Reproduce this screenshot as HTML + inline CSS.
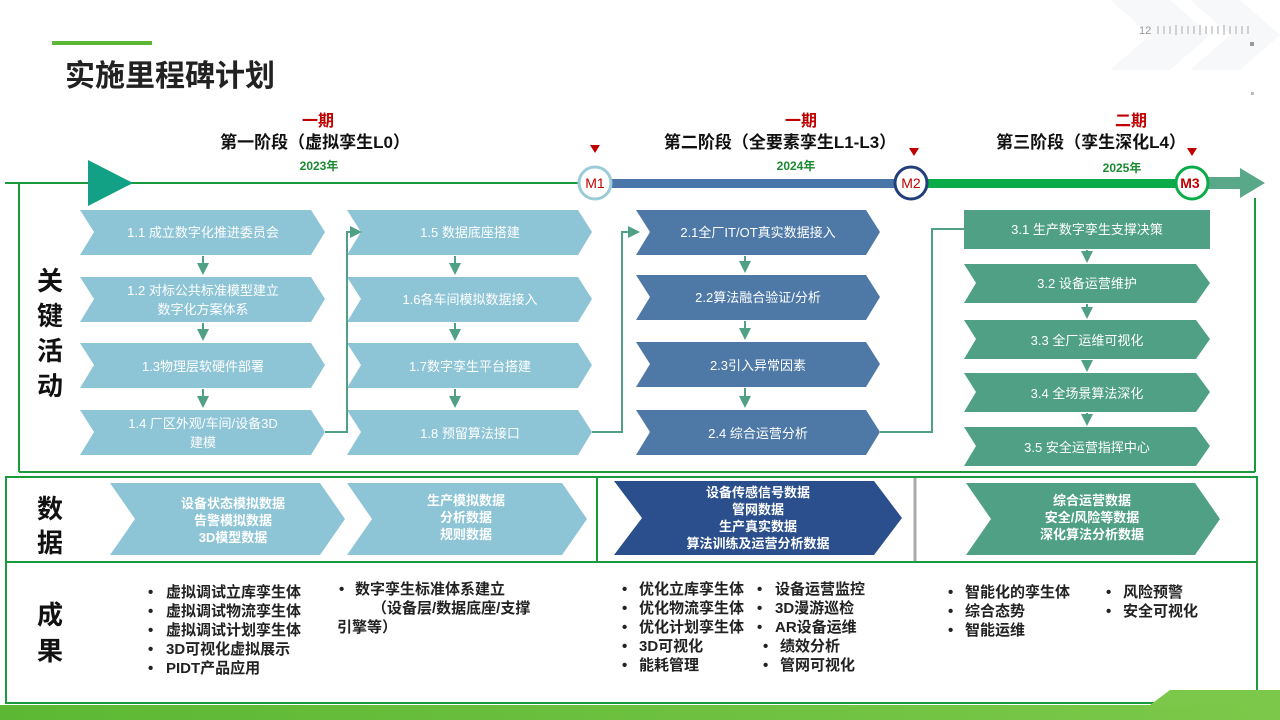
<!DOCTYPE html>
<html><head><meta charset="utf-8"><style>
html,body{margin:0;padding:0;background:#fff}
svg{display:block}
text{font-family:"Liberation Sans","Noto Sans CJK SC",sans-serif}
</style></head><body>
<svg width="1280" height="720" viewBox="0 0 1280 720" xmlns="http://www.w3.org/2000/svg">
<defs>
<marker id="ah" markerWidth="6" markerHeight="6" refX="5" refY="3" orient="auto"><path d="M0,0 L6,3 L0,6 z" fill="#4fa084"/></marker>
<linearGradient id="bg" x1="0" x2="1"><stop offset="0" stop-color="#5cb834"/><stop offset="1" stop-color="#7cc84a"/></linearGradient>
</defs>
<!-- decor top right -->
<path d="M1110,0 L1170,0 L1210,35 L1170,70 L1110,70 L1150,35z" fill="#f6f8fa"/>
<path d="M1190,0 L1240,0 L1280,35 L1240,70 L1190,70 L1230,35z" fill="#f6f8fa"/>
<text x="1139" y="34" font-size="11" fill="#999">12</text>
<g stroke="#aaa" stroke-width="1">
<line x1="1158" y1="26" x2="1158" y2="34"/><line x1="1164" y1="26" x2="1164" y2="34"/><line x1="1170" y1="26" x2="1170" y2="34"/><line x1="1176" y1="25" x2="1176" y2="35"/><line x1="1182" y1="26" x2="1182" y2="34"/><line x1="1188" y1="26" x2="1188" y2="34"/><line x1="1194" y1="26" x2="1194" y2="34"/><line x1="1200" y1="25" x2="1200" y2="35"/><line x1="1206" y1="26" x2="1206" y2="34"/><line x1="1212" y1="26" x2="1212" y2="34"/><line x1="1218" y1="26" x2="1218" y2="34"/><line x1="1224" y1="25" x2="1224" y2="35"/><line x1="1230" y1="26" x2="1230" y2="34"/><line x1="1236" y1="26" x2="1236" y2="34"/><line x1="1242" y1="26" x2="1242" y2="34"/><line x1="1248" y1="26" x2="1248" y2="34"/>
</g>
<rect x="1250" y="42" width="4" height="4" fill="#999"/>
<rect x="1251" y="92" width="3" height="3" fill="#bbb"/>
<!-- title -->
<rect x="52" y="41" width="100" height="4" fill="#5cb834"/>
<text x="65" y="86" font-size="30" font-weight="bold" fill="#222">实施里程碑计划</text>
<!-- stage labels -->
<g font-weight="bold" text-anchor="middle">
<text x="318" y="126" font-size="16" fill="#c00000">一期</text>
<text x="315" y="148" font-size="17" fill="#111">第一阶段（虚拟孪生L0）</text>
<text x="319" y="170" font-size="12" fill="#1a8a30">2023年</text>
<text x="801" y="126" font-size="16" fill="#c00000">一期</text>
<text x="780" y="148" font-size="17" fill="#111">第二阶段（全要素孪生L1-L3）</text>
<text x="796" y="170" font-size="12" fill="#1a8a30">2024年</text>
<text x="1131" y="126" font-size="16" fill="#c00000">二期</text>
<text x="1091" y="148" font-size="17" fill="#111">第三阶段（孪生深化L4）</text>
<text x="1122" y="172" font-size="12" fill="#1a8a30">2025年</text>
</g>
<!-- timeline -->
<line x1="5" y1="183" x2="580" y2="183" stroke="#1a9a3a" stroke-width="2"/>
<path d="M88,160 L133,183 L88,206z" fill="#13a185"/>
<rect x="610" y="179" width="290" height="9" fill="#4a75a8"/>
<rect x="925" y="179" width="255" height="9" fill="#0bab4a"/>
<path d="M1206,177 L1240,177 L1240,168 L1265,183 L1240,198 L1240,189 L1206,189z" fill="#5aa88a"/>
<circle cx="595" cy="183" r="16" fill="#fff" stroke="#9ccbd8" stroke-width="3"/>
<circle cx="911" cy="183" r="16" fill="#fff" stroke="#223f7a" stroke-width="3"/>
<circle cx="1192" cy="183" r="16" fill="#fff" stroke="#0bab4a" stroke-width="3"/>
<g font-size="14" fill="#c00000" text-anchor="middle"><text x="595" y="188">M1</text><text x="911" y="188">M2</text><text x="1190" y="188" font-weight="bold">M3</text></g>
<g fill="#c00000"><path d="M590,145 L600,145 L595,153z"/><path d="M909,148 L919,148 L914,156z"/><path d="M1187,148 L1197,148 L1192,156z"/></g>
<!-- frames -->
<g fill="none" stroke="#1a9a3a" stroke-width="2">
<line x1="19" y1="183" x2="19" y2="472"/>
<line x1="1255" y1="198" x2="1255" y2="472"/>
<line x1="19" y1="472" x2="1255" y2="472"/>
<rect x="6" y="477" width="1251" height="226"/>
<line x1="6" y1="562" x2="1257" y2="562"/>
<line x1="597" y1="477" x2="597" y2="562"/>
</g>
<line x1="915" y1="478" x2="915" y2="561" stroke="#aaa" stroke-width="3"/>
<!-- side labels -->
<g font-size="26" font-weight="bold" fill="#111" text-anchor="middle">
<text x="50" y="290">关</text><text x="50" y="325">键</text><text x="50" y="360">活</text><text x="50" y="395">动</text>
<text x="50" y="518">数</text><text x="50" y="552">据</text>
<text x="50" y="624">成</text><text x="50" y="660">果</text>
</g>
<!-- chevrons -->
<g fill="#8ec5d6">
<path d="M80,210 L311,210 L325,232 L311,255 L80,255 L94,232z"/>
<path d="M80,277 L311,277 L325,299 L311,322 L80,322 L94,299z"/>
<path d="M80,343 L311,343 L325,365 L311,388 L80,388 L94,365z"/>
<path d="M80,410 L311,410 L325,432 L311,455 L80,455 L94,432z"/>
<path d="M347,210 L578,210 L592,232 L578,255 L347,255 L361,232z"/>
<path d="M347,277 L578,277 L592,299 L578,322 L347,322 L361,299z"/>
<path d="M347,343 L578,343 L592,365 L578,388 L347,388 L361,365z"/>
<path d="M347,410 L578,410 L592,432 L578,455 L347,455 L361,432z"/>
</g>
<g fill="#4e79a7">
<path d="M636,210 L866,210 L880,232 L866,255 L636,255 L650,232z"/>
<path d="M636,275 L866,275 L880,297 L866,320 L636,320 L650,297z"/>
<path d="M636,342 L866,342 L880,364 L866,387 L636,387 L650,364z"/>
<path d="M636,410 L866,410 L880,432 L866,455 L636,455 L650,432z"/>
</g>
<g fill="#4fa084">
<rect x="964" y="210" width="246" height="39"/>
<path d="M964,264 L1196,264 L1210,283 L1196,303 L964,303 L976,283z"/>
<path d="M964,320 L1196,320 L1210,339 L1196,359 L964,359 L976,339z"/>
<path d="M964,373 L1196,373 L1210,392 L1196,412 L964,412 L976,392z"/>
<path d="M964,427 L1196,427 L1210,446 L1196,466 L964,466 L976,446z"/>
</g>
<!-- arrows -->
<g stroke="#4fa084" stroke-width="2" fill="none" marker-end="url(#ah)">
<line x1="203" y1="256" x2="203" y2="273"/><line x1="203" y1="323" x2="203" y2="339"/><line x1="203" y1="389" x2="203" y2="406"/>
<line x1="455" y1="256" x2="455" y2="273"/><line x1="455" y1="323" x2="455" y2="339"/><line x1="455" y1="389" x2="455" y2="406"/>
<line x1="745" y1="256" x2="745" y2="271"/><line x1="745" y1="321" x2="745" y2="338"/><line x1="745" y1="388" x2="745" y2="406"/>
<line x1="1087" y1="250" x2="1087" y2="261"/><line x1="1087" y1="304" x2="1087" y2="317"/><line x1="1087" y1="360" x2="1087" y2="370"/><line x1="1087" y1="413" x2="1087" y2="424"/>
<polyline points="325,432 347,432 347,232 360,232"/>
<polyline points="592,432 622,432 622,232 638,232"/>
</g>
<polyline points="880,432 932,432 932,229 964,229" stroke="#4fa084" stroke-width="2" fill="none"/>
<!-- chevron text -->
<g font-size="13" fill="#fff" text-anchor="middle">
<text x="203" y="237">1.1  成立数字化推进委员会</text>
<text x="203" y="295">1.2  对标公共标准模型建立</text><text x="203" y="314">数字化方案体系</text>
<text x="203" y="371">1.3物理层软硬件部署</text>
<text x="203" y="428">1.4  厂区外观/车间/设备3D</text><text x="203" y="447">建模</text>
<text x="470" y="237">1.5 数据底座搭建</text>
<text x="470" y="304">1.6各车间模拟数据接入</text>
<text x="470" y="371">1.7数字孪生平台搭建</text>
<text x="470" y="438">1.8  预留算法接口</text>
<text x="758" y="237">2.1全厂IT/OT真实数据接入</text>
<text x="758" y="302">2.2算法融合验证/分析</text>
<text x="758" y="370">2.3引入异常因素</text>
<text x="758" y="438">2.4 综合运营分析</text>
<text x="1087" y="234">3.1 生产数字孪生支撑决策</text>
<text x="1087" y="288">3.2 设备运营维护</text>
<text x="1087" y="345">3.3 全厂运维可视化</text>
<text x="1087" y="398">3.4  全场景算法深化</text>
<text x="1087" y="452">3.5 安全运营指挥中心</text>
</g>
<!-- data row -->
<path d="M110,483 L320,483 L345,519 L320,555 L110,555 L135,519z" fill="#8ec5d6"/>
<path d="M347,483 L562,483 L587,519 L562,555 L347,555 L372,519z" fill="#8ec5d6"/>
<path d="M614,481 L874,481 L902,518 L874,555 L614,555 L642,518z" fill="#2b4f8c"/>
<path d="M966,483 L1195,483 L1220,519 L1195,555 L966,555 L991,519z" fill="#4fa084"/>
<g font-size="13" font-weight="bold" fill="#fff" text-anchor="middle">
<text x="233" y="508">设备状态模拟数据</text><text x="233" y="525">告警模拟数据</text><text x="233" y="542">3D模型数据</text>
<text x="466" y="505">生产模拟数据</text><text x="466" y="522">分析数据</text><text x="466" y="539">规则数据</text>
<text x="758" y="497">设备传感信号数据</text><text x="758" y="514">管网数据</text><text x="758" y="531">生产真实数据</text><text x="758" y="548">算法训练及运营分析数据</text>
<text x="1092" y="505">综合运营数据</text><text x="1092" y="522">安全/风险等数据</text><text x="1092" y="539">深化算法分析数据</text>
</g>
<!-- results -->
<g font-size="15" font-weight="bold" fill="#222">
<text x="148" y="597">•</text><text x="166" y="597">虚拟调试立库孪生体</text>
<text x="148" y="616">•</text><text x="166" y="616">虚拟调试物流孪生体</text>
<text x="148" y="635">•</text><text x="166" y="635">虚拟调试计划孪生体</text>
<text x="148" y="654">•</text><text x="166" y="654">3D可视化虚拟展示</text>
<text x="148" y="673">•</text><text x="166" y="673">PIDT产品应用</text>
<text x="339" y="594">•</text><text x="355" y="594">数字孪生标准体系建立</text>
<text x="372" y="613">（设备层/数据底座/支撑</text>
<text x="337" y="632">引擎等）</text>
<text x="622" y="594">•</text><text x="639" y="594">优化立库孪生体</text><text x="757" y="594">•</text><text x="775" y="594">设备运营监控</text>
<text x="622" y="613">•</text><text x="639" y="613">优化物流孪生体</text><text x="757" y="613">•</text><text x="775" y="613">3D漫游巡检</text>
<text x="622" y="632">•</text><text x="639" y="632">优化计划孪生体</text><text x="757" y="632">•</text><text x="775" y="632">AR设备运维</text>
<text x="622" y="651">•</text><text x="639" y="651">3D可视化</text><text x="763" y="651">•</text><text x="780" y="651">绩效分析</text>
<text x="622" y="670">•</text><text x="639" y="670">能耗管理</text><text x="763" y="670">•</text><text x="780" y="670">管网可视化</text>
<text x="948" y="597">•</text><text x="965" y="597">智能化的孪生体</text><text x="1106" y="597">•</text><text x="1123" y="597">风险预警</text>
<text x="948" y="616">•</text><text x="965" y="616">综合态势</text><text x="1106" y="616">•</text><text x="1123" y="616">安全可视化</text>
<text x="948" y="635">•</text><text x="965" y="635">智能运维</text>
</g>
<!-- bottom band -->
<rect x="0" y="705" width="1280" height="15" fill="url(#bg)"/>
<path d="M1150,705 L1170,690 L1280,690 L1280,705z" fill="#7cc84a"/>
</svg>
</body></html>
